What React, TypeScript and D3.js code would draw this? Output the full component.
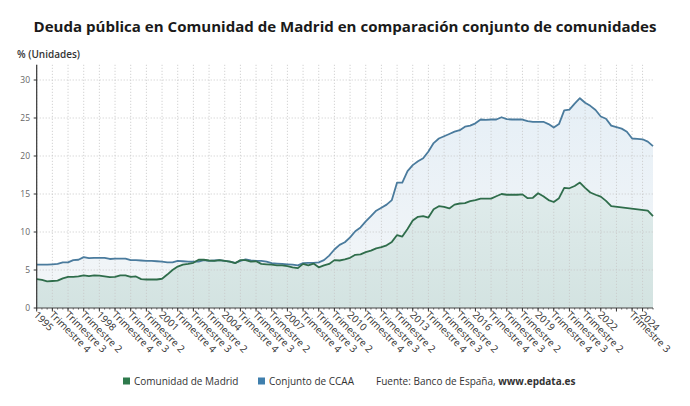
import React from "react";
import * as d3 from "d3";

const W = 690;
const H = 406;

const title = "Deuda pública en Comunidad de Madrid en comparación conjunto de comunidades";
const yAxisTitle = "% (Unidades)";
const seriesNames = ["Comunidad de Madrid", "Conjunto de CCAA"];
const source = "Fuente: Banco de España, ";
const sourceBold = "www.epdata.es";

// Quarterly categories 1995 T1 .. 2024 T3
const firstYear = 1995;
const lastYear = 2024;
const lastQuarter = 3;
const categories: { year: number; q: number }[] = [];
for (let y = firstYear; y <= lastYear; y++) {
  for (let q = 1; q <= 4; q++) {
    if (y === lastYear && q > lastQuarter) break;
    categories.push({ year: y, q });
  }
}

// Ticks shown on the axis (category keys "year-quarter")
const tickKeys = [
  "1995-1", "1995-4", "1996-3", "1997-2", "1998-1", "1998-4", "1999-3", "2000-2",
  "2001-1", "2001-4", "2002-3", "2003-2", "2004-1", "2004-4", "2005-3", "2006-2",
  "2007-1", "2007-4", "2008-3", "2009-2", "2010-1", "2010-4", "2011-3", "2012-2",
  "2013-1", "2013-4", "2014-3", "2015-2", "2016-1", "2016-4", "2017-3", "2018-2",
  "2019-1", "2019-4", "2020-3", "2021-2", "2022-1", "2022-4", "2023-3", "2024-1",
];
// Ticks without a visible label
const unlabeledTicks = ["2022-4"];

const yTicks = [0, 5, 10, 15, 20, 25, 30];

const ccaa: (number | null)[] = [
  5.7, 5.7, 5.7, 5.75, 5.8, 6.0, 6.0, 6.3, 6.35, 6.7,
  6.55, 6.6, 6.6, 6.6, 6.45, 6.5, 6.5, 6.5, 6.3, 6.3,
  6.25, 6.2, 6.2, 6.15, 6.1, 6.0, 6.0, 6.2, 6.15, 6.1,
  6.1, 6.1, 6.3, 6.2, 6.25, 6.3, 6.2, 6.1, 5.95, 6.2,
  6.4, 6.25, 6.2, 6.2, 6.1, 5.9, 5.85, 5.8, 5.75, 5.7,
  5.6, 5.9, 5.95, 5.95, 6.0, 6.3, 6.9, 7.7, 8.3, 8.65,
  9.3, 10.1, 10.6, 11.4, 12.1, 12.8, 13.2, 13.6, 14.2, 16.5,
  16.5, 18.0, 18.8, 19.3, 19.7, 20.6, 21.7, 22.3, 22.6, 22.9,
  23.2, 23.4, 23.85, 24.0, 24.3, 24.8, 24.75, 24.8, 24.8, 25.1,
  24.85, 24.8, 24.8, 24.8, 24.6, 24.5, 24.5, 24.5, 24.2, 23.75,
  24.2, 26.0, 26.1, 26.9, 27.6, 27.0, 26.6, 26.05, 25.2, 24.9,
  24.0, 23.8, 23.6, 23.2, 22.3, 22.25, 22.2, 21.9, 21.3,
];

const madrid: (number | null)[] = [
  3.8, 3.7, 3.5, 3.55, 3.6, 3.9, 4.1, 4.1, 4.15, 4.3,
  4.2, 4.3, 4.25, 4.15, 4.05, 4.1, 4.3, 4.3, 4.1, 4.15,
  3.8, 3.75, 3.75, 3.75, 3.85, 4.4, 5.0, 5.45, 5.7, 5.8,
  5.95, 6.35, 6.35, 6.25, 6.2, 6.3, 6.2, 6.1, 5.9, 6.3,
  6.3, 6.1, 6.15, 5.8, 5.75, 5.7, 5.6, 5.6, 5.5, 5.35,
  5.25, 5.8, 5.6, 5.85, 5.35, 5.6, 5.8, 6.3, 6.25, 6.4,
  6.6, 7.0, 7.05, 7.35, 7.55, 7.85, 8.0, 8.25, 8.7, 9.6,
  9.4, 10.4, 11.5, 12.0, 12.1, 11.9, 13.0, 13.4, 13.3, 13.1,
  13.6, 13.75, 13.8, 14.05, 14.2, 14.4, 14.4, 14.4, 14.7, 15.0,
  14.9, 14.9, 14.9, 14.95, 14.45, 14.5, 15.1, 14.7, 14.2, 13.95,
  14.45, 15.8, 15.75, 16.05, 16.5, 15.8, 15.2, 14.9, 14.65, 14.1,
  13.4, null, null, null, null, null, null, 12.8, 12.1,
];

const colors = {
  madrid: "#2f6d4b",
  ccaa: "#4a7b9d",
  legendMadrid: "#2e7a4c",
  legendCcaa: "#3f7fad",
};

const FONT = "'Open Sans', 'Noto Sans', sans-serif";

export default function App() {
  const plot = { left: 36.7, right: 653, top: 64.8, bottom: 308 };
  const x = d3.scaleLinear().domain([0, categories.length - 1]).range([plot.left, plot.right]);
  const y = d3.scaleLinear().domain([0, 32]).range([plot.bottom, plot.top]);

  const keyIndex = (k: string) =>
    categories.findIndex((c) => `${c.year}-${c.q}` === k);

  const toPts = (arr: (number | null)[]) =>
    arr.map((v, i) => ({ i, v })).filter((p) => p.v !== null) as { i: number; v: number }[];

  const line = d3.line<{ i: number; v: number }>().x((d) => x(d.i)).y((d) => y(d.v));
  const area = d3
    .area<{ i: number; v: number }>()
    .x((d) => x(d.i))
    .y0(y(0))
    .y1((d) => y(d.v));

  const mPts = toPts(madrid);
  const cPts = toPts(ccaa);

  const ticks = tickKeys.map((k) => {
    const idx = keyIndex(k);
    const c = categories[idx];
    const label = c.q === 1 ? String(c.year) : `Trimestre ${c.q}`;
    return { idx, label, show: !unlabeledTicks.includes(k) };
  });

  return (
    <svg
      width={W}
      height={H}
      style={{ position: "absolute", left: 0, top: 0, background: "#fff" }}
      fontFamily={FONT}
    >
      <defs>
        <linearGradient id="gC" x1="0" y1="0" x2="0" y2="1">
          <stop offset="0%" stopColor="#e6eff6" />
          <stop offset="100%" stopColor="#f3f6f8" />
        </linearGradient>
        <linearGradient id="gM" x1="0" y1="0" x2="0" y2="1">
          <stop offset="0%" stopColor="#e0ecec" />
          <stop offset="100%" stopColor="#d3e3e1" />
        </linearGradient>
      </defs>

      <text
        x={W / 2}
        y={32}
        textAnchor="middle"
        fontSize={15}
        fontWeight={700}
        fill="#1a1a1a"
        textLength={623}
        lengthAdjust="spacingAndGlyphs"
      >
        {title}
      </text>
      <text x={17} y={58} fontSize={10} fontWeight={600} fill="#333">
        {yAxisTitle}
      </text>

      {/* areas */}
      <path d={area(cPts) || ""} fill="url(#gC)" />
      <path d={area(mPts) || ""} fill="url(#gM)" />

      {/* grid */}
      {yTicks.filter((t) => t > 0).map((t) => (
        <line key={"gy" + t} x1={plot.left} x2={plot.right} y1={y(t)} y2={y(t)} stroke="#c8c8c8" strokeWidth={1} strokeDasharray="1,2" />
      ))}
      {ticks.map((t) => (
        <line key={"gx" + t.idx} x1={x(t.idx)} x2={x(t.idx)} y1={plot.top} y2={plot.bottom} stroke="#c8c8c8" strokeWidth={1} strokeDasharray="1,2" />
      ))}

      {/* lines */}
      <path d={line(cPts) || ""} fill="none" stroke={colors.ccaa} strokeWidth={1.8} strokeLinejoin="round" />
      <path d={line(mPts) || ""} fill="none" stroke={colors.madrid} strokeWidth={1.8} strokeLinejoin="round" />

      {/* axes */}
      <line x1={plot.left} x2={plot.left} y1={plot.top} y2={plot.bottom} stroke="#333" strokeWidth={1.2} />
      <line x1={plot.left} x2={plot.right} y1={plot.bottom} y2={plot.bottom} stroke="#444" strokeWidth={1} />
      {categories.map((c, i) => (
        <line key={"mt" + i} x1={x(i)} x2={x(i)} y1={plot.bottom} y2={plot.bottom + 1.5} stroke="#555" strokeWidth={1} />
      ))}
      {ticks.map((t) => (
        <line key={"tk" + t.idx} x1={x(t.idx)} x2={x(t.idx)} y1={plot.bottom} y2={plot.bottom + 3.5} stroke="#333" strokeWidth={1} />
      ))}
      {yTicks.map((t) => (
        <g key={"yt" + t}>
          <line x1={plot.left - 3} x2={plot.left} y1={y(t)} y2={y(t)} stroke="#333" />
          <text x={30} y={y(t)} dy="0.35em" textAnchor="end" fontSize={8.5} fill="#666">
            {t}
          </text>
        </g>
      ))}
      {ticks.filter((t) => t.show).map((t) => (
        <text
          key={"xl" + t.idx}
          transform={`translate(${x(t.idx) - 1},${plot.bottom + 5}) rotate(45)`}
          dy="0.35em"
          fontSize={10}
          fill="#333"
        >
          {t.label}
        </text>
      ))}

      {/* legend */}
      <rect x={123} y={377.5} width={7} height={7} fill={colors.legendMadrid} />
      <text x={134} y={381} dy="0.35em" fontSize={10} fill="#333">{seriesNames[0]}</text>
      <rect x={258} y={377.5} width={7} height={7} fill={colors.legendCcaa} />
      <text x={269} y={381} dy="0.35em" fontSize={10} fill="#333">{seriesNames[1]}</text>
      <text x={376} y={381} dy="0.35em" fontSize={10} fill="#333">
        {source}
        <tspan fontWeight={700}>{sourceBold}</tspan>
      </text>
    </svg>
  );
}
